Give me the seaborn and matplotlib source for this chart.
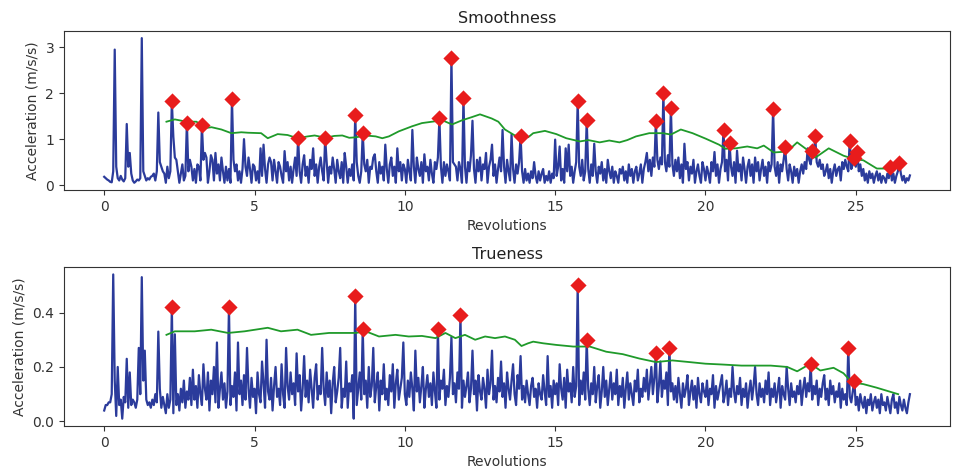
import numpy as np
import pandas as pd
import matplotlib
matplotlib.use("Agg")
import matplotlib.pyplot as plt
import seaborn as sns

STEP = 0.05  # revolutions between samples

smooth_signal = [
    0.18,0.15,0.12,0.10,0.07,0.06,0.30,2.95,0.40,0.15,0.10,0.20,0.12,0.08,0.15,1.33,0.40,0.70,0.25,0.10,
    0.05,0.08,0.12,0.10,0.15,3.20,0.30,0.20,0.10,0.15,0.12,0.18,0.20,0.25,0.10,0.30,1.58,0.50,0.40,0.30,
    0.25,0.05,0.40,0.15,0.30,1.82,1.05,0.60,0.55,0.30,0.05,0.25,0.45,0.10,0.20,1.35,0.30,0.55,0.40,0.10,
    0.35,0.05,0.45,0.40,0.10,1.30,0.55,0.70,0.60,0.05,0.30,0.65,0.55,0.10,0.70,0.25,0.45,0.10,0.60,0.30,
    0.05,0.40,0.10,0.35,0.05,1.87,0.55,0.30,0.45,0.10,0.30,0.05,0.35,1.00,0.40,0.20,0.60,0.35,0.05,0.45,
    0.40,0.10,0.30,0.05,0.80,0.20,0.88,0.35,0.05,0.45,0.60,0.50,0.10,0.55,0.30,0.05,0.50,0.40,0.20,0.05,
    0.74,0.30,0.50,0.10,0.40,0.05,0.35,0.60,0.20,1.02,0.30,0.05,0.45,0.65,0.20,0.40,0.05,0.55,0.35,0.80,
    0.20,0.45,0.05,0.40,0.60,0.30,0.10,1.02,0.50,0.05,0.40,0.25,0.60,0.35,0.05,0.55,0.30,0.15,0.50,0.05,
    0.70,0.40,0.05,0.35,0.20,0.45,0.10,1.52,0.50,0.20,0.05,0.30,1.13,0.45,0.30,0.55,0.05,0.40,0.35,0.60,
    0.67,0.30,0.05,0.50,0.25,0.40,0.10,0.88,0.35,0.05,0.45,0.60,0.20,0.40,0.05,0.80,0.30,0.50,0.10,0.45,
    0.35,0.05,0.55,0.30,0.10,1.20,0.40,0.05,0.60,0.35,0.20,0.50,0.05,0.67,0.30,0.40,0.10,0.55,0.25,0.05,
    0.50,0.35,0.60,1.45,0.40,0.05,0.50,0.20,0.45,0.30,0.10,2.77,0.50,0.45,0.40,0.10,0.50,0.35,0.05,1.90,
    0.40,0.05,0.50,0.30,0.65,1.40,0.35,0.05,0.55,0.30,0.60,0.10,0.45,0.35,0.70,0.05,0.40,0.55,0.88,0.20,
    0.45,0.05,0.35,0.60,0.30,1.20,0.40,0.05,0.55,0.30,0.10,1.10,0.35,0.05,0.45,0.25,0.50,1.07,0.30,0.05,
    0.35,0.10,0.25,0.05,0.30,0.15,0.50,0.20,0.05,0.30,0.10,0.25,0.35,0.05,0.20,0.10,0.30,0.05,0.25,0.15,
    0.99,0.20,0.40,0.84,0.10,0.35,0.05,0.80,0.30,0.88,0.20,0.40,0.05,0.30,0.50,1.82,0.40,0.20,0.55,0.10,
    0.30,1.41,0.35,0.05,0.45,0.20,0.90,0.30,0.05,0.40,0.25,0.50,0.10,0.35,0.05,0.55,0.30,0.15,0.40,0.05,
    0.30,0.20,0.05,0.35,0.25,0.40,0.10,0.30,0.05,0.45,0.20,0.35,0.05,0.30,0.40,0.10,0.25,0.45,0.05,0.35,
    0.50,0.70,0.30,0.55,0.20,0.60,0.40,1.40,0.55,0.35,0.60,0.45,2.00,0.50,0.30,0.65,0.40,1.68,0.45,0.20,
    0.55,0.30,0.60,0.15,0.45,0.05,0.90,0.35,0.50,0.10,0.40,0.25,0.55,0.05,0.30,0.45,0.20,0.05,0.50,0.35,
    0.10,0.40,0.25,0.05,0.50,0.30,0.72,0.20,0.45,0.05,0.35,0.50,1.20,0.30,0.55,0.10,0.92,0.40,0.20,0.50,
    0.05,0.75,0.30,0.45,0.10,0.60,0.35,0.05,0.40,0.55,0.20,0.45,0.05,0.60,0.30,0.50,0.10,0.35,0.55,0.20,
    0.40,0.05,0.50,0.30,0.45,1.65,0.40,0.20,0.50,0.05,0.45,0.30,0.55,0.82,0.35,0.10,0.45,0.30,0.05,0.40,
    0.20,0.35,0.05,0.30,0.45,0.25,0.50,0.35,0.80,0.55,0.45,0.74,0.60,1.07,0.50,0.40,0.55,0.35,0.45,0.20,
    0.30,0.45,0.15,0.35,0.05,0.30,0.45,0.20,0.35,0.40,0.10,0.50,0.35,0.55,0.40,0.30,0.97,0.35,0.45,0.58,
    0.40,0.72,0.30,0.45,0.20,0.35,0.10,0.25,0.05,0.30,0.15,0.25,0.05,0.20,0.30,0.10,0.25,0.05,0.20,0.15,
    0.05,0.25,0.15,0.40,0.10,0.25,0.05,0.20,0.30,0.47,0.25,0.10,0.20,0.05,0.15,0.10,0.21,
]

true_signal = [
    0.04,0.06,0.06,0.07,0.07,0.10,0.54,0.15,0.02,0.20,0.06,0.08,0.01,0.09,0.07,0.23,0.05,0.18,0.06,0.08,
    0.07,0.05,0.08,0.27,0.10,0.53,0.15,0.26,0.08,0.06,0.07,0.05,0.08,0.06,0.10,0.07,0.33,0.12,0.05,0.09,
    0.06,0.03,0.10,0.05,0.08,0.42,0.03,0.32,0.06,0.10,0.04,0.12,0.07,0.15,0.05,0.11,0.08,0.16,0.06,0.19,
    0.08,0.13,0.05,0.17,0.10,0.06,0.21,0.12,0.08,0.18,0.04,0.15,0.10,0.20,0.07,0.29,0.05,0.12,0.18,0.08,
    0.14,0.05,0.11,0.42,0.06,0.13,0.09,0.18,0.04,0.29,0.10,0.15,0.06,0.17,0.08,0.27,0.12,0.05,0.16,0.09,
    0.12,0.03,0.18,0.10,0.07,0.22,0.14,0.05,0.30,0.11,0.08,0.16,0.04,0.13,0.20,0.09,0.12,0.06,0.21,0.10,
    0.05,0.27,0.13,0.08,0.18,0.10,0.14,0.06,0.25,0.11,0.17,0.04,0.12,0.24,0.09,0.15,0.07,0.19,0.12,0.05,
    0.16,0.21,0.08,0.13,0.10,0.27,0.12,0.06,0.18,0.09,0.15,0.03,0.14,0.20,0.07,0.11,0.16,0.27,0.05,0.12,
    0.09,0.22,0.05,0.14,0.11,0.17,0.01,0.46,0.06,0.12,0.18,0.08,0.34,0.10,0.15,0.05,0.20,0.09,0.13,0.27,
    0.07,0.13,0.18,0.04,0.15,0.10,0.21,0.08,0.12,0.06,0.17,0.11,0.21,0.05,0.14,0.19,0.08,0.12,0.16,0.29,
    0.10,0.06,0.15,0.09,0.18,0.12,0.04,0.26,0.11,0.16,0.07,0.13,0.20,0.05,0.12,0.17,0.09,0.14,0.06,0.18,
    0.11,0.05,0.34,0.08,0.15,0.12,0.19,0.06,0.13,0.09,0.16,0.31,0.10,0.14,0.07,0.18,0.12,0.39,0.05,0.15,
    0.09,0.13,0.18,0.07,0.12,0.26,0.10,0.15,0.04,0.17,0.11,0.08,0.16,0.12,0.05,0.19,0.10,0.14,0.26,0.08,
    0.13,0.07,0.16,0.11,0.22,0.09,0.14,0.05,0.18,0.12,0.08,0.15,0.21,0.10,0.06,0.17,0.12,0.24,0.08,0.13,
    0.07,0.15,0.10,0.06,0.13,0.16,0.09,0.12,0.05,0.14,0.10,0.08,0.17,0.11,0.06,0.24,0.09,0.13,0.05,0.15,
    0.10,0.14,0.06,0.21,0.12,0.08,0.16,0.05,0.19,0.11,0.14,0.07,0.20,0.09,0.13,0.50,0.06,0.15,0.10,0.18,
    0.08,0.30,0.12,0.06,0.14,0.10,0.20,0.07,0.13,0.17,0.05,0.11,0.20,0.09,0.15,0.06,0.12,0.18,0.08,0.14,
    0.10,0.19,0.06,0.13,0.09,0.16,0.05,0.12,0.18,0.08,0.14,0.10,0.06,0.15,0.11,0.19,0.07,0.12,0.09,0.16,
    0.11,0.19,0.08,0.14,0.20,0.10,0.16,0.25,0.07,0.13,0.22,0.09,0.15,0.12,0.18,0.06,0.27,0.11,0.14,0.08,
    0.13,0.07,0.16,0.10,0.05,0.14,0.09,0.12,0.17,0.06,0.11,0.15,0.08,0.13,0.05,0.16,0.10,0.07,0.14,0.11,
    0.09,0.15,0.06,0.12,0.10,0.17,0.05,0.13,0.08,0.11,0.14,0.17,0.07,0.10,0.15,0.06,0.12,0.09,0.20,0.11,
    0.07,0.13,0.10,0.16,0.06,0.12,0.09,0.14,0.05,0.11,0.15,0.08,0.13,0.20,0.10,0.06,0.14,0.09,0.12,0.07,
    0.15,0.10,0.18,0.06,0.12,0.09,0.14,0.07,0.11,0.16,0.05,0.13,0.10,0.08,0.20,0.12,0.06,0.14,0.09,0.11,
    0.07,0.13,0.10,0.15,0.06,0.12,0.16,0.09,0.14,0.11,0.21,0.08,0.13,0.10,0.15,0.06,0.12,0.09,0.14,0.17,
    0.08,0.12,0.06,0.15,0.10,0.13,0.07,0.11,0.09,0.14,0.05,0.12,0.08,0.10,0.06,0.27,0.09,0.07,0.11,0.15,
    0.06,0.09,0.04,0.10,0.07,0.05,0.09,0.03,0.08,0.06,0.10,0.04,0.07,0.09,0.05,0.08,0.03,0.10,0.06,0.07,
    0.04,0.09,0.06,0.03,0.08,0.10,0.05,0.07,0.03,0.09,0.06,0.04,0.08,0.05,0.03,0.07,0.10,
]

smooth_peak_revs = [2.25, 2.75, 3.25, 4.25, 6.45, 7.35, 8.35, 8.6, 11.15, 11.55, 11.95, 13.85,
                    15.75, 16.05, 18.35, 18.6, 18.85, 20.6, 20.8, 22.25, 22.65, 23.55, 23.65,
                    24.8, 24.95, 25.05, 26.15, 26.45]
true_peak_revs = [2.25, 4.15, 8.35, 8.6, 11.1, 11.85, 15.75, 16.05, 18.35, 18.8, 23.5, 24.75, 24.95]

smooth_thr_x = [2.07,2.35,2.74,3.07,3.23,3.34,3.57,3.9,4.23,4.56,4.78,5.22,5.44,5.77,6.1,6.43,6.77,7.0,
                7.37,7.65,7.92,8.15,8.37,8.7,9.03,9.25,9.47,9.8,10.24,10.57,11.02,11.18,11.57,11.9,12.23,
                12.5,12.89,13.11,13.33,13.66,14.1,14.27,14.66,15.04,15.37,15.82,16.1,16.48,16.8,17.14,
                17.4,17.69,18.13,18.58,18.85,19.18,19.57,20.01,20.45,20.67,21.0,21.39,21.72,21.94,22.27,
                22.72,23.05,23.38,23.66,24.1,24.59,24.92,25.25,25.7,26.25,26.47]
smooth_thr_y = [1.38,1.43,1.38,1.38,1.30,1.24,1.26,1.21,1.13,1.15,1.14,1.13,1.02,1.11,1.09,1.02,1.06,1.08,
                1.03,1.07,1.08,1.03,1.04,1.08,1.06,1.02,1.06,1.17,1.28,1.35,1.39,1.43,1.32,1.41,1.48,
                1.54,1.45,1.38,1.21,1.08,1.04,1.13,1.18,1.11,1.02,0.95,0.98,0.93,0.97,0.93,
                0.98,1.06,1.13,1.13,1.10,1.21,1.13,1.01,0.88,0.79,0.80,0.84,0.80,0.86,0.71,
                0.73,0.93,0.77,0.60,0.80,0.64,0.57,0.54,0.36,0.36,0.43]

true_thr_x = [2.07,2.35,3.01,3.56,4.12,4.67,5.44,5.88,6.43,6.88,7.48,8.37,8.7,9.14,9.69,10.13,10.57,11.02,
              11.35,11.68,12.0,12.34,12.67,13.0,13.33,13.66,13.88,14.1,14.27,14.6,15.04,15.6,16.15,16.7,
              17.25,17.8,18.35,18.9,19.46,20.0,20.56,21.2,21.61,22.17,22.72,23.05,23.49,23.82,24.26,
              24.59,24.87,25.25,25.69,26.14,26.41]
true_thr_y = [0.318,0.331,0.331,0.337,0.325,0.331,0.344,0.331,0.337,0.318,0.325,0.325,0.331,0.312,0.318,
              0.312,0.314,0.306,0.325,0.306,0.318,0.300,0.312,0.306,0.312,0.300,0.277,0.287,0.293,0.287,
              0.281,0.275,0.275,0.256,0.247,0.231,0.218,0.224,0.218,0.212,0.209,0.205,0.205,0.205,0.200,
              0.184,0.212,0.187,0.197,0.177,0.143,0.137,0.124,0.109,0.100]

titles = ["Smoothness", "Trueness"]
xlabel = "Revolutions"
ylabel = "Acceleration (m/s/s)"

BLUE = "#2b3b9b"
GREEN = "#1f9a2a"
RED = "#e81c1c"

plt.rcParams['font.family'] = ['DejaVu Sans']
plt.rcParams['axes.edgecolor'] = '#333333'
plt.rcParams['xtick.color'] = '#333333'
plt.rcParams['ytick.color'] = '#333333'

fig = plt.figure(figsize=(9.54, 4.68), dpi=100)
ax1 = fig.add_axes([0.067, 0.594, 0.929, 0.340])
ax2 = fig.add_axes([0.067, 0.090, 0.929, 0.339])

panels = [
    (ax1, smooth_signal, smooth_peak_revs, smooth_thr_x, smooth_thr_y, titles[0]),
    (ax2, true_signal, true_peak_revs, true_thr_x, true_thr_y, titles[1]),
]

for ax, sig, peaks, tx, ty, title in panels:
    sig = np.asarray(sig)
    revs = np.arange(len(sig)) * STEP
    df = pd.DataFrame({"rev": revs, "acc": sig})
    sns.lineplot(data=df, x="rev", y="acc", ax=ax, color=BLUE, linewidth=1.6,
                 estimator=None, zorder=2)
    thr = pd.DataFrame({"rev": tx, "acc": ty})
    sns.lineplot(data=thr, x="rev", y="acc", ax=ax, color=GREEN, linewidth=1.3,
                 estimator=None, zorder=3)
    idx = np.rint(np.asarray(peaks) / STEP).astype(int)
    pk = pd.DataFrame({"rev": revs[idx], "acc": sig[idx]})
    sns.scatterplot(data=pk, x="rev", y="acc", ax=ax, color=RED, marker="D", s=68,
                    edgecolor=RED, linewidth=0, zorder=4)
    ax.set_title(title, fontsize=11.5, color="#222222")
    ax.set_xlabel(xlabel, fontsize=10, color="#333333")
    ax.set_ylabel(ylabel, fontsize=10, color="#333333")
    ax.tick_params(labelsize=10)
    ax.set_xticks([0, 5, 10, 15, 20, 25])
    ax.margins(x=0.05, y=0.05)

ax1.set_yticks([0, 1, 2, 3])
ax2.set_yticks([0.0, 0.2, 0.4])

fig.savefig("out.png", dpi=100)
